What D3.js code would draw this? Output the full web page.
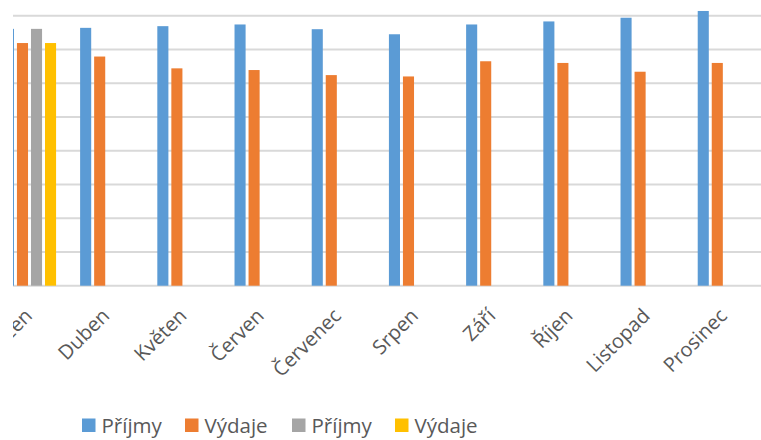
<html>
<head>
<meta charset="utf-8">
<script src="https://d3js.org/d3.v7.min.js"></script>
<style>
  body { margin: 0; background: #fff; }
  svg text { font-family: "Open Sans", sans-serif; fill: #595959; }
</style>
</head>
<body>
<script>
    // data (grid step = 10)
    var months = ['Březen', 'Duben', 'Květen', 'Červen', 'Červenec', 'Srpen', 'Září', 'Říjen', 'Listopad', 'Prosinec'];
    var seriesNames = ['Příjmy', 'Výdaje', 'Příjmy', 'Výdaje'];
    var seriesColors = ['#5B9BD5', '#ED7D31', '#A5A5A5', '#FFC000'];
    var prijmy = [76.1, 76.4, 76.9, 77.4, 76.0, 74.5, 77.4, 78.3, 79.4, 81.4];
    var vydaje = [71.9, 67.9, 64.4, 63.9, 62.4, 62.0, 66.5, 66.0, 63.4, 66.0];
    var prijmy2 = [76.1, null, null, null, null, null, null, null, null, null];
    var vydaje2 = [71.9, null, null, null, null, null, null, null, null, null];
    var gridTicks = [0, 10, 20, 30, 40, 50, 60, 70, 80];

    var allSeries = [prijmy, vydaje, prijmy2, vydaje2];

    var width = 761, height = 440;
    var plotLeft = 13, plotRight = 761, plotBottom = 285.7, plotTop = 15.7;

    var svg = d3.select('body').append('svg').attr('width', width).attr('height', height);

    var x0 = d3.scaleBand().domain(months).range([-9.1, 762.9]).paddingInner(0.275).paddingOuter(0.1375);
    var x1 = d3.scaleBand().domain(d3.range(4)).range([0, x0.bandwidth()]).paddingInner(0.21).paddingOuter(0.1);
    var y = d3.scaleLinear().domain([0, 80]).range([plotBottom, plotTop]);

    // the chart is cut off on the left, so marks and labels stop at plotLeft
    svg.append('clipPath').attr('id', 'plot')
        .append('rect').attr('x', plotLeft).attr('y', 0).attr('width', plotRight - plotLeft).attr('height', plotBottom + 1);
    svg.append('clipPath').attr('id', 'labels')
        .append('rect').attr('x', plotLeft).attr('y', plotBottom).attr('width', plotRight - plotLeft).attr('height', 120);

    // gridlines
    svg.append('g').selectAll('line').data(gridTicks).enter().append('line')
        .attr('x1', plotLeft).attr('x2', plotRight)
        .attr('y1', function(d){ return y(d) }).attr('y2', function(d){ return y(d) })
        .attr('stroke', '#D9D9D9').attr('stroke-width', 2);

    // bars
    var groups = svg.append('g').attr('clip-path', 'url(#plot)')
        .selectAll('g').data(months).enter().append('g')
        .attr('transform', function(d){ return 'translate(' + x0(d) + ',0)' });

    groups.selectAll('rect')
        .data(function(d, i){ return allSeries.map(function(s, k){ return {k: k, v: s[i]} }).filter(function(e){ return e.v != null }) })
        .enter().append('rect')
        .attr('x', function(d){ return x1(d.k) })
        .attr('width', x1.bandwidth())
        .attr('y', function(d){ return y(d.v) })
        .attr('height', function(d){ return plotBottom - y(d.v) })
        .attr('fill', function(d){ return seriesColors[d.k] });

    // category labels
    svg.append('g').attr('clip-path', 'url(#labels)')
        .selectAll('text').data(months).enter().append('text')
        .attr('text-anchor', 'end')
        .attr('font-size', 20)
        .attr('transform', function(d){
            var cx = x0(d) + x0.bandwidth() / 2;
            return 'translate(' + (cx + 4) + ',317) rotate(-45)';
        })
        .text(function(d){ return d });

    // legend
    var legendX = [82, 185, 292, 395];
    var legend = svg.append('g').selectAll('g').data(seriesNames).enter().append('g')
        .attr('transform', function(d, i){ return 'translate(' + legendX[i] + ',418.5)' });
    legend.append('rect').attr('width', 13.5).attr('height', 13.5)
        .attr('fill', function(d, i){ return seriesColors[i] });
    legend.append('text').attr('x', 19.5).attr('y', 14).attr('font-size', 20.5)
        .text(function(d){ return d });
</script>
</body>
</html>
